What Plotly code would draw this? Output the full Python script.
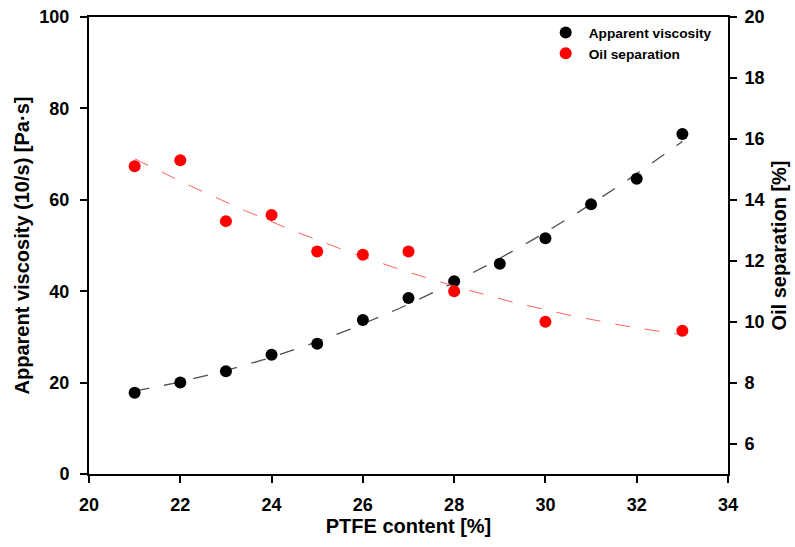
import numpy as np
import plotly.graph_objects as go

ptfe_visc = [21, 22, 23, 24, 25, 26, 27, 28, 29, 30, 31, 32, 33]
viscosity = [17.8, 20.0, 22.5, 26.1, 28.5, 33.7, 38.5, 42.2, 46.0, 51.6, 59.0, 64.6, 74.4]

ptfe_oil = [21, 22, 23, 24, 25, 26, 27, 28, 30, 33]
oil_sep = [15.1, 15.3, 13.3, 13.5, 12.3, 12.2, 12.3, 11.0, 10.0, 9.7]

xfit = np.linspace(21, 33, 100)
cv = np.polyfit(ptfe_visc, viscosity, 2)
co = np.polyfit(ptfe_oil, oil_sep, 2)

font = "Liberation Sans, Arial, sans-serif"

fig = go.Figure()
fig.add_trace(go.Scatter(x=xfit, y=np.polyval(cv, xfit), mode="lines",
                         line=dict(color="#505050", width=1.3, dash="longdash"),
                         showlegend=False, hoverinfo="skip"))
fig.add_trace(go.Scatter(x=xfit, y=np.polyval(co, xfit), mode="lines", yaxis="y2",
                         line=dict(color="#ff6060", width=1.0, dash="longdash"),
                         showlegend=False, hoverinfo="skip"))
fig.add_trace(go.Scatter(x=ptfe_visc, y=viscosity, mode="markers", name="Apparent viscosity",
                         marker=dict(color="black", size=12)))
fig.add_trace(go.Scatter(x=ptfe_oil, y=oil_sep, mode="markers", name="Oil separation", yaxis="y2",
                         marker=dict(color="#ff0000", size=12)))

tickfont = dict(family=font, size=18, color="black", weight="bold")
titlefont = dict(family=font, size=20, color="black", weight="bold")

fig.update_layout(
    width=795, height=547,
    margin=dict(l=89, r=67, t=17, b=73),
    plot_bgcolor="white", paper_bgcolor="white",
    xaxis=dict(range=[20, 34], dtick=2, showgrid=False, zeroline=False, automargin=False,
               showline=True, linecolor="black", linewidth=2, mirror=False,
               ticks="outside", ticklen=7, tickwidth=2, tickcolor="black", ticklabelstandoff=6,
               tickfont=tickfont, title=dict(text="PTFE content [%]", font=titlefont, standoff=4)),
    xaxis2=dict(range=[20, 34], overlaying="x", side="top", showline=True, linecolor="black",
                linewidth=1.5, showticklabels=False, ticks="", showgrid=False, zeroline=False,
                automargin=False),
    yaxis=dict(range=[0, 100], dtick=20, showgrid=False, zeroline=False, automargin=False,
               showline=True, linecolor="black", linewidth=2,
               ticks="outside", ticklen=7, tickwidth=2, tickcolor="black", ticklabelstandoff=7,
               tickfont=tickfont, title=dict(text="Apparent viscosity (10/s) [Pa·s]", font=titlefont, standoff=4)),
    yaxis2=dict(range=[5, 20], tickvals=[6, 8, 10, 12, 14, 16, 18, 20], overlaying="y", side="right",
                showgrid=False, zeroline=False, showline=True, linecolor="black", linewidth=2,
                automargin=False,
                ticks="outside", ticklen=7, tickwidth=2, tickcolor="black", ticklabelstandoff=4,
                tickfont=tickfont, title=dict(text="Oil separation [%]", font=titlefont, standoff=8)),
    legend=dict(x=0.71, y=1.0, xanchor="left", yanchor="top", bgcolor="rgba(0,0,0,0)",
                font=dict(family=font, size=13.7, color="black", weight="bold"),
                itemwidth=36, tracegroupgap=0),
    showlegend=True,
)
# dummy trace for top axis line
fig.add_trace(go.Scatter(x=[20], y=[0], xaxis="x2", mode="markers", marker=dict(opacity=0),
                         showlegend=False, hoverinfo="skip"))

fig.write_html("out.html")
